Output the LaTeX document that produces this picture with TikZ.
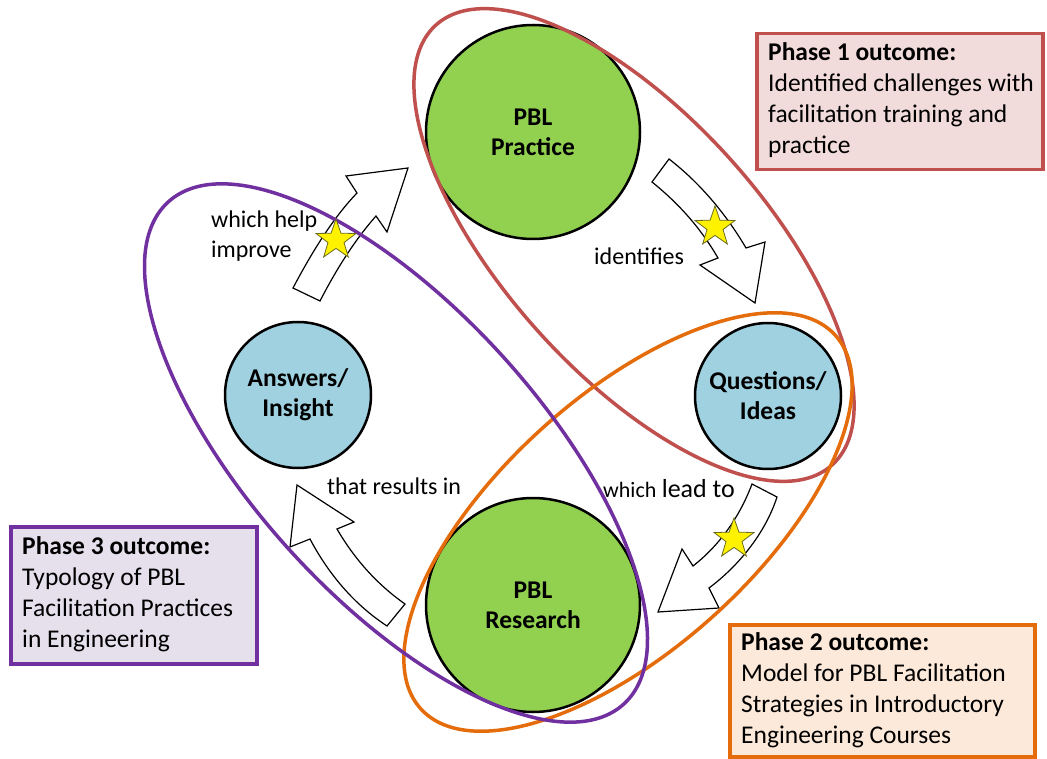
\documentclass[tikz,border=0pt]{standalone}
\usepackage{fontspec}
\setmainfont{Carlito}
\usetikzlibrary{shapes.geometric}

\definecolor{pblgreen}{HTML}{92D050}
\definecolor{pblblue}{HTML}{A0D1E0}
\definecolor{phaseA}{HTML}{C0504D}
\definecolor{phaseAfill}{HTML}{F2DCDB}
\definecolor{phaseB}{HTML}{E46C0A}
\definecolor{phaseBfill}{HTML}{FDE9D9}
\definecolor{phaseC}{HTML}{7030A0}
\definecolor{phaseCfill}{HTML}{E5E0EC}
\definecolor{staredge}{HTML}{6B6B20}

\begin{document}
\begin{tikzpicture}[x=1pt,y=-1pt,
  stage/.style={circle, draw=black, line width=2.5pt, inner sep=0pt, align=center,
    font=\fontsize{25.5}{30}\selectfont\bfseries},
  bigstage/.style={stage, fill=pblgreen, minimum size=214pt},
  smallstage/.style={stage, fill=pblblue, minimum size=146pt},
  loopline/.style={line width=3.5pt},
  blockarrow/.style={draw=black, fill=white, line width=1.2pt, line join=miter},
  starmark/.style={star, star points=5, star point ratio=2.5, fill=yellow, draw=staredge,
    line width=0.8pt, minimum size=42pt, inner sep=0pt},
  lbl/.style={inner sep=0pt, align=left, font=\fontsize{24}{30}\selectfont},
  outcomebox/.style={draw, line width=3.5pt, anchor=north west, inner sep=0pt},
  outcometext/.style={inner sep=0pt, align=left, anchor=west, font=\fontsize{25.5}{31}\selectfont},
]
\useasboundingbox (0,0) rectangle (1047,759);
\fill[white] (0,0) rectangle (1047,759);

% the four stages of the cycle
\node[bigstage]   (practice)  at (533,132) {PBL\\Practice};
\node[bigstage]   (research)  at (533,605) {PBL\\Research};
\node[smallstage] (answers)   at (298,395) {Answers/\\Insight};
\node[smallstage] (questions) at (768,396) {Questions/\\Ideas};

% curved block arrows between the stages
\draw[blockarrow] (293,288) .. controls (312,252) and (333,218) .. (357,193)
  -- (346,176) -- (408,168) -- (387,232) -- (376,216)
  .. controls (354,241) and (336,270) .. (320,301) -- cycle;
\draw[blockarrow] (669,159) .. controls (700,183) and (726,214) .. (746,248)
  -- (765,242) -- (755,303) -- (700,265) -- (718,258)
  .. controls (700,227) and (678,203) .. (652,182) -- cycle;
\draw[blockarrow] (752,484) -- (777,497) .. controls (766,531) and (741,564) .. (709,588)
  -- (719,608) -- (658,612) -- (682,549) -- (693,566)
  .. controls (720,545) and (740,516) .. (752,484) -- cycle;
\draw[blockarrow] (297,485) -- (354,522) -- (337,529)
  .. controls (355,560) and (378,585) .. (405,604) -- (387,626)
  .. controls (355,605) and (329,575) .. (310,539) -- (290,547) -- cycle;

% the three research phases
\draw[loopline, draw=phaseA, rotate around={-48:(634,245)}] (634,245) ellipse [x radius=296, y radius=129];
\draw[loopline, draw=phaseB, rotate around={42:(628,522)}] (628,522) ellipse [x radius=279, y radius=127];
\draw[loopline, draw=phaseC, rotate around={-47.8:(396,453)}] (396,453) ellipse [x radius=339, y radius=144];

% stars on the arrows
\node[starmark] (starA) at (336,240) {};
\node[starmark] (starB) at (715,227) {};
\node[starmark] (starC) at (734,539) {};

% arrow labels
\node[lbl, anchor=west] (helpLbl) at (211,236) {which help\\improve};
\node[lbl, anchor=base west] (identLbl) at (594,265) {identifies};
\node[lbl, anchor=base west] (resultLbl) at (327,494) {that results in};
\node[lbl, anchor=base west] (leadLbl) at (603,497) {{\fontsize{22}{26}\selectfont which} {\fontsize{26}{30}\selectfont lead to}};

% outcome boxes
\node[outcomebox, draw=phaseA, fill=phaseAfill, minimum width=286pt, minimum height=136pt] (boxA) at (755,32) {};
\node[outcometext] (txtA) at (768,100) {\textbf{Phase 1 outcome:}\\Identified challenges with\\facilitation training and\\practice};
\node[outcomebox, draw=phaseB, fill=phaseBfill, minimum width=305pt, minimum height=132pt] (boxB) at (728,623) {};
\node[outcometext] (txtB) at (741,690) {\textbf{Phase 2 outcome:}\\Model for PBL Facilitation\\Strategies in Introductory\\Engineering Courses};
\node[outcomebox, draw=phaseC, fill=phaseCfill, minimum width=246pt, minimum height=137pt] (boxC) at (9,525) {};
\node[outcometext] (txtC) at (22,594) {\textbf{Phase 3 outcome:}\\Typology of PBL\\Facilitation Practices\\in Engineering};
\end{tikzpicture}
\end{document}
